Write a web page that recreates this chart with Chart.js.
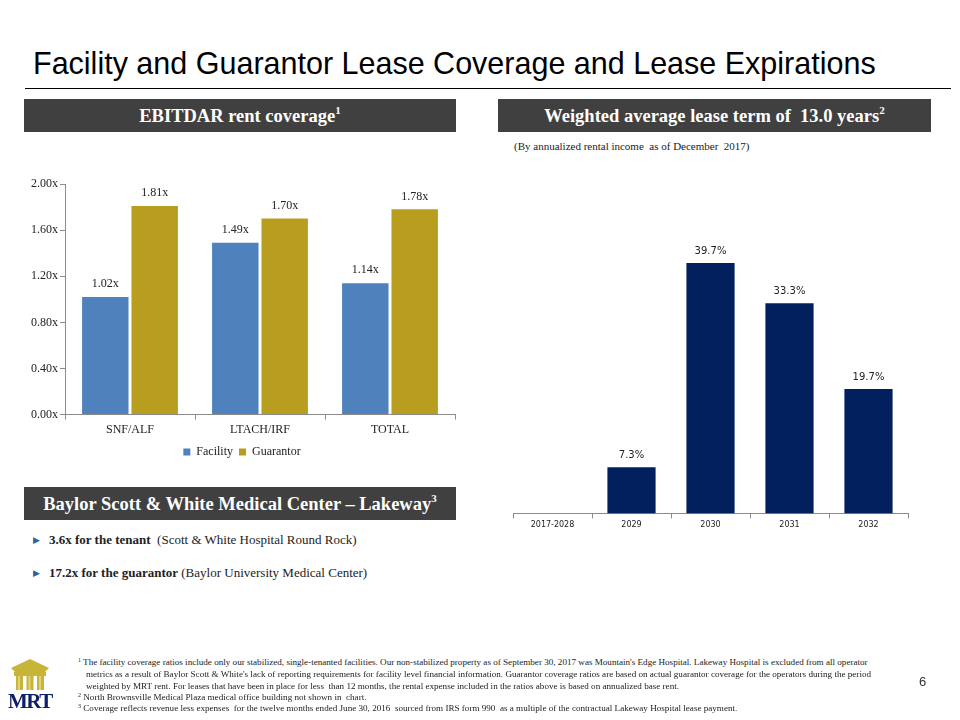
<!DOCTYPE html>
<html>
<head>
<meta charset="utf-8">
<script src="https://cdn.jsdelivr.net/npm/chart.js@4.4.1/dist/chart.umd.min.js"></script>
<style>
  body { margin: 0; width: 960px; height: 720px; background: #fff; position: relative; overflow: hidden; }
  .abs { position: absolute; }
  .title { left: 33px; top: 46px; font-family: "Liberation Sans", Arial, sans-serif; font-size: 30.5px; color: #000; white-space: nowrap; }
  .rule { left: 25px; top: 88px; width: 926px; height: 1px; background: #000; }
  .hdr { background: #404040; color: #fff; font-family: "Liberation Serif", serif; font-weight: bold; font-size: 18.5px; text-align: center; height: 33px; line-height: 35px; white-space: nowrap; }
  .hdr sup { font-size: 11px; vertical-align: 8px; line-height: 0; }
  .sub { left: 514px; top: 140px; font-family: "Liberation Serif", serif; font-size: 11px; color: #222; }
  .bullet { left: 33px; font-family: "Liberation Serif", serif; font-size: 13px; color: #222; white-space: nowrap; }
  .bullet .tri { color: #2f5fa7; font-size: 9px; margin-right: 9px; position: relative; top: -1px; }
  .foot { left: 78px; font-family: "Liberation Serif", serif; font-size: 9.1px; color: #222; white-space: nowrap; line-height: 11px; }
  .foot sup { font-size: 6px; vertical-align: 3px; line-height: 0; }
  .page { left: 919px; top: 674px; font-family: "Liberation Sans", Arial, sans-serif; font-size: 13px; color: #333; }
  .logo-text { left: 8px; top: 689px; font-family: "Liberation Serif", serif; font-weight: bold; font-size: 21px; color: #0b1f6b; letter-spacing: -1.5px; }
</style>
</head>
<body>
<div class="abs title">Facility and Guarantor Lease Coverage and Lease Expirations</div>
<div class="abs rule"></div>

<div class="abs hdr" style="left:24px; top:99px; width:432px;">EBITDAR rent coverage<sup>1</sup></div>
<div class="abs hdr" style="left:498px; top:99px; width:433px;">Weighted average lease term of&nbsp; 13.0 years<sup>2</sup></div>
<div class="abs sub">(By annualized rental income&nbsp; as of December&nbsp; 2017)</div>

<canvas id="coverage-chart" class="abs" width="445" height="300" style="left:20px; top:168px;"></canvas>
<canvas id="expiry-chart" class="abs" width="440" height="382" style="left:480px; top:150px;"></canvas>

<div class="abs hdr" style="left:24px; top:487px; width:432px;">Baylor Scott &amp; White Medical Center – Lakeway<sup>3</sup></div>
<div class="abs bullet" style="top:532px;"><span class="tri">&#9654;</span><b>3.6x for the tenant</b>&nbsp; (Scott &amp; White Hospital Round Rock)</div>
<div class="abs bullet" style="top:565px;"><span class="tri">&#9654;</span><b>17.2x for the guarantor</b> (Baylor University Medical Center)</div>

<canvas id="logo" class="abs" width="46" height="34" style="left:7px; top:658px;"></canvas>
<div class="abs logo-text">MRT</div>

<div class="abs foot" style="top:657px;"><sup>1</sup> The facility coverage ratios include only our stabilized, single-tenanted facilities. Our non-stabilized property as of September 30, 2017 was Mountain's Edge Hospital. Lakeway Hospital is excluded from all operator</div>
<div class="abs foot" style="top:669px; left:86px;">metrics as a result of Baylor Scott &amp; White's lack of reporting requirements for facility level financial information. Guarantor coverage ratios are based on actual guarantor coverage for the operators during the period</div>
<div class="abs foot" style="top:681px; left:86px;">weighted by MRT rent. For leases that have been in place for less&nbsp; than 12 months, the rental expense included in the ratios above is based on annualized base rent.</div>
<div class="abs foot" style="top:692px;"><sup>2</sup> North Brownsville Medical Plaza medical office building not shown in&nbsp; chart.</div>
<div class="abs foot" style="top:703px;"><sup>3</sup> Coverage reflects revenue less expenses&nbsp; for the twelve months ended June 30, 2016&nbsp; sourced from IRS form 990&nbsp; as a multiple of the contractual Lakeway Hospital lease payment.</div>

<div class="abs page">6</div>

<script>
// datos del grafico de cobertura
const coverageCategories = ['SNF/ALF', 'LTACH/IRF', 'TOTAL'];
const facilityValues = [1.02, 1.49, 1.14];
const guarantorValues = [1.81, 1.70, 1.78];
const coverageTicks = [0, 0.4, 0.8, 1.2, 1.6, 2.0];

// datos del grafico de vencimientos
const expiryCategories = ['2017-2028', '2029', '2030', '2031', '2032'];
const expiryValues = [null, 7.3, 39.7, 33.3, 19.7];

// plugin simple para etiquetas sobre las barras
const barLabels = {
    id: 'barLabels',
    afterDatasetsDraw(chart, args, opts) {
        const ctx = chart.ctx;
        ctx.save();
        ctx.font = opts.font;
        ctx.fillStyle = opts.color;
        ctx.textAlign = 'center';
        ctx.textBaseline = 'bottom';
        chart.data.datasets.forEach((ds, i) => {
            const meta = chart.getDatasetMeta(i);
            meta.data.forEach((bar, j) => {
                const v = ds.data[j];
                if (v === null || v === undefined) return;
                ctx.fillText(opts.format(v), bar.x, bar.y - opts.offset);
            });
        });
        ctx.restore();
    }
};

function renderCoverageChart() {
    const ctx = document.getElementById('coverage-chart').getContext('2d');
    new Chart(ctx, {
        type: 'bar',
        data: {
            labels: coverageCategories,
            datasets: [{
                label: 'Facility',
                data: facilityValues,
                backgroundColor: '#4f81bd',
                categoryPercentage: 0.76,
                barPercentage: 0.94
            }, {
                label: 'Guarantor',
                data: guarantorValues,
                backgroundColor: '#b89d1f',
                categoryPercentage: 0.76,
                barPercentage: 0.94
            }]
        },
        options: {
            responsive: false,
            animation: false,
            layout: { padding: { top: 16, right: 10, left: 9, bottom: 0 } },
            scales: {
                x: {
                    grid: { display: true, drawOnChartArea: false, offset: true, tickLength: 5, color: '#8c8c8c' },
                    border: { color: '#8c8c8c' },
                    ticks: { color: '#222', font: { family: 'Liberation Serif', size: 12 }, padding: 3 }
                },
                y: {
                    min: 0,
                    max: 2,
                    afterBuildTicks: axis => { axis.ticks = coverageTicks.map(v => ({ value: v })); },
                    grid: { display: true, drawOnChartArea: false, tickLength: 5, color: '#8c8c8c' },
                    border: { color: '#8c8c8c' },
                    ticks: {
                        color: '#222',
                        font: { family: 'Liberation Serif', size: 12 },
                        padding: 2,
                        callback: v => v.toFixed(2) + 'x'
                    }
                }
            },
            plugins: {
                legend: {
                    position: 'bottom',
                    labels: {
                        boxWidth: 7,
                        boxHeight: 7,
                        padding: 6,
                        color: '#222',
                        font: { family: 'Liberation Serif', size: 12 }
                    }
                },
                tooltip: { enabled: false },
                barLabels: {
                    font: '12px "Liberation Serif"',
                    color: '#222',
                    offset: 7,
                    format: v => v.toFixed(2) + 'x'
                }
            }
        },
        plugins: [barLabels]
    });
}

function renderExpiryChart() {
    const ctx = document.getElementById('expiry-chart').getContext('2d');
    new Chart(ctx, {
        type: 'bar',
        data: {
            labels: expiryCategories,
            datasets: [{
                label: 'Expirations',
                data: expiryValues,
                backgroundColor: '#03205e',
                categoryPercentage: 0.61,
                barPercentage: 1
            }]
        },
        options: {
            responsive: false,
            animation: false,
            layout: { padding: { top: 0, right: 12, left: 33, bottom: 0 } },
            scales: {
                x: {
                    grid: { display: true, drawOnChartArea: false, offset: true, tickLength: 5, color: '#8c8c8c' },
                    border: { color: '#8c8c8c' },
                    ticks: { color: '#222', font: { family: 'DejaVu Sans', size: 8 }, padding: 2 }
                },
                y: {
                    display: false,
                    min: 0,
                    max: 57.6
                }
            },
            plugins: {
                legend: { display: false },
                tooltip: { enabled: false },
                barLabels: {
                    font: '10px "DejaVu Sans"',
                    color: '#222',
                    offset: 7,
                    format: v => v.toFixed(1) + '%'
                }
            }
        },
        plugins: [barLabels]
    });
}

// logo: columnas doradas
function drawLogo() {
    const c = document.getElementById('logo').getContext('2d');
    c.fillStyle = '#c9b43a';
    c.beginPath();
    c.moveTo(4, 10); c.lineTo(23, 1); c.lineTo(42, 10); c.lineTo(38, 14); c.lineTo(8, 14);
    c.closePath(); c.fill();
    c.fillRect(7, 14, 32, 4);
    c.fillRect(9, 18, 7, 14);
    c.fillRect(19.5, 18, 7, 14);
    c.fillRect(30, 18, 7, 14);
    c.fillStyle = '#e2d27a';
    c.fillRect(11, 18, 2, 14);
    c.fillRect(21.5, 18, 2, 14);
    c.fillRect(32, 18, 2, 14);
}

renderCoverageChart();
renderExpiryChart();
drawLogo();
</script>
</body>
</html>
